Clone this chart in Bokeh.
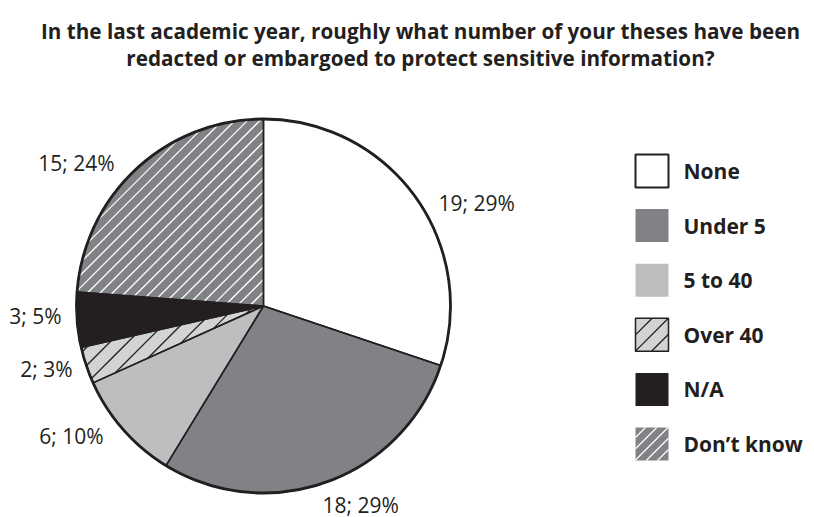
import numpy as np
from bokeh.plotting import figure
from bokeh.models import Range1d, ColumnDataSource
from bokeh.core.properties import value
from bokeh.embed import file_html
from bokeh.resources import INLINE

# ---- data ----
categories = ["None", "Under 5", "5 to 40", "Over 40", "N/A", "Don\u2019t know"]
counts = [19, 18, 6, 2, 3, 15]
percents = [29, 29, 10, 3, 5, 24]
title_lines = [
    "In the last academic year, roughly what number of your theses have been",
    "redacted or embargoed to protect sensitive information?",
]

# ---- styles ----
fills = ["#ffffff", "#808285", "#bcbec0", "#d1d3d4", "#231f20", "#808285"]
hatched = [False, False, False, True, False, True]
hatch_colors = ["#231f20", "#231f20", "#231f20", "#231f20", "#231f20", "#ffffff"]
hatch_gaps = [0, 0, 0, 18, 0, 12.5]
legend_lines = ["#231f20", None, None, "#231f20", None, None]
legend_line_widths = [2, 0, 0, 1.5, 0, 0]
INK = "#231f20"

W, H = 814, 517
PAGE_H = 517


def sy(y):  # screen y (page px) -> data y
    return PAGE_H - y


def hatch_segments(gap, lin, circle=None):
    """45-degree lines x - y = c, clipped by linear constraints
    a + b.(P) >= 0 given as (a, bx, by) and an optional circle (cx, cy, r)."""
    v = np.array([1.0, 1.0]) / np.sqrt(2)
    xs, ys = [], []
    for c in np.arange(-1200, 1200, gap):
        p0 = np.array([c, 0.0])
        lo, hi = -1e5, 1e5
        if circle is not None:
            ccx, ccy, r = circle
            d = p0 - np.array([ccx, ccy])
            b = 2 * d.dot(v)
            cc = d.dot(d) - r * r
            disc = b * b - 4 * cc
            if disc <= 0:
                continue
            lo = max(lo, (-b - np.sqrt(disc)) / 2)
            hi = min(hi, (-b + np.sqrt(disc)) / 2)
        ok = True
        for a, bx, by in lin:
            k0 = a + bx * p0[0] + by * p0[1]
            k1 = bx * v[0] + by * v[1]
            if abs(k1) < 1e-12:
                if k0 < 0:
                    ok = False
                continue
            t = -k0 / k1
            if k1 > 0:
                lo = max(lo, t)
            else:
                hi = min(hi, t)
        if ok and hi > lo:
            a0, a1 = p0 + lo * v, p0 + hi * v
            xs.append([a0[0], a1[0]])
            ys.append([a0[1], a1[1]])
    return xs, ys


p = figure(width=W, height=H, output_backend="svg", toolbar_location=None,
           x_range=Range1d(0, W), y_range=Range1d(0, H),
           x_axis_type=None, y_axis_type=None, min_border=0)
p.grid.visible = False
p.outline_line_color = None
p.background_fill_color = "white"
p.border_fill_color = "white"

# ---- pie ----
cx, cy, R = 263, sy(305.5), 187
total = sum(counts)
cum = np.cumsum([0] + counts)
starts = [np.pi / 2 - 2 * np.pi * cum[i] / total for i in range(len(counts))]
ends = [np.pi / 2 - 2 * np.pi * cum[i + 1] / total for i in range(len(counts))]
src = ColumnDataSource(dict(start=starts, end=ends, fill=fills))
p.wedge(x=cx, y=cy, radius=R, start_angle="start", end_angle="end", direction="clock",
        fill_color="fill", line_color=None, source=src)

# hatch lines inside hatched slices (sectors < 180 deg are convex)
for i in range(len(counts)):
    if not hatched[i]:
        continue
    us = (np.cos(starts[i]), np.sin(starts[i]))
    ue = (np.cos(ends[i]), np.sin(ends[i]))
    # inside: cross(ue, d) >= 0 and cross(us, d) <= 0, d = P - C
    lin = [(-(ue[0] * cy - ue[1] * cx), -ue[1], ue[0]),
           ((us[0] * cy - us[1] * cx), us[1], -us[0])]
    hx, hy = hatch_segments(hatch_gaps[i], lin, circle=(cx, cy, R))
    p.multi_line(xs=hx, ys=hy, line_color=hatch_colors[i], line_width=1.3)

p.wedge(x=cx, y=cy, radius=R, start_angle="start", end_angle="end", direction="clock",
        fill_color=None, line_color=INK, line_width=1.5, source=src)
p.circle(x=[cx], y=[cy], radius=R, fill_color=None, line_color=INK, line_width=2.8)

# ---- slice labels ----
labels = [f"{c}; {pc}%" for c, pc in zip(counts, percents)]
label_x = [438, 322, 103, 72, 61, 114]
label_y = [202, 504, 435, 368, 315, 162]
label_align = ["left", "left", "right", "right", "right", "right"]
p.text(x=label_x, y=[sy(v) for v in label_y], text=labels, text_align=label_align,
       text_baseline="middle", text_font=value("Open Sans"), text_font_size="21px",
       text_color=INK)

# ---- title ----
p.text(x=[420, 420], y=[sy(30), sy(57)], text=title_lines, text_align="center",
       text_baseline="alphabetic", text_font=value("Open Sans"), text_font_size="20.7px",
       text_font_style="bold", text_color=INK)

# ---- legend ----
box_left, box_size, first_top, step = 635, 33, 154, 54.6
tops = [first_top + i * step for i in range(len(categories))]
lsrc = ColumnDataSource(dict(
    left=[box_left] * len(categories), right=[box_left + box_size] * len(categories),
    top=[sy(t) for t in tops], bottom=[sy(t + box_size) for t in tops],
    fill=fills,
    tx=[box_left + box_size + 15] * len(categories),
    ty=[sy(t + box_size / 2) for t in tops], label=categories))
p.quad(left="left", right="right", top="top", bottom="bottom", fill_color="fill",
       line_color=None, source=lsrc)
for i in range(len(categories)):
    l, r = box_left, box_left + box_size
    t, b = sy(tops[i]), sy(tops[i] + box_size)
    if hatched[i]:
        lin = [(-l, 1, 0), (r, -1, 0), (-b, 0, 1), (t, 0, -1)]
        hx, hy = hatch_segments(hatch_gaps[i] * 0.9, lin)
        p.multi_line(xs=hx, ys=hy, line_color=hatch_colors[i], line_width=1.3)
    if legend_lines[i]:
        p.quad(left=[l], right=[r], top=[t], bottom=[b], fill_color=None,
               line_color=legend_lines[i], line_width=legend_line_widths[i])
p.text(x="tx", y="ty", text="label", text_align="left", text_baseline="middle",
       text_font=value("Open Sans"), text_font_size="21px", text_font_style="bold",
       text_color=INK, source=lsrc)

open("out.html", "w").write(file_html(p, INLINE))
